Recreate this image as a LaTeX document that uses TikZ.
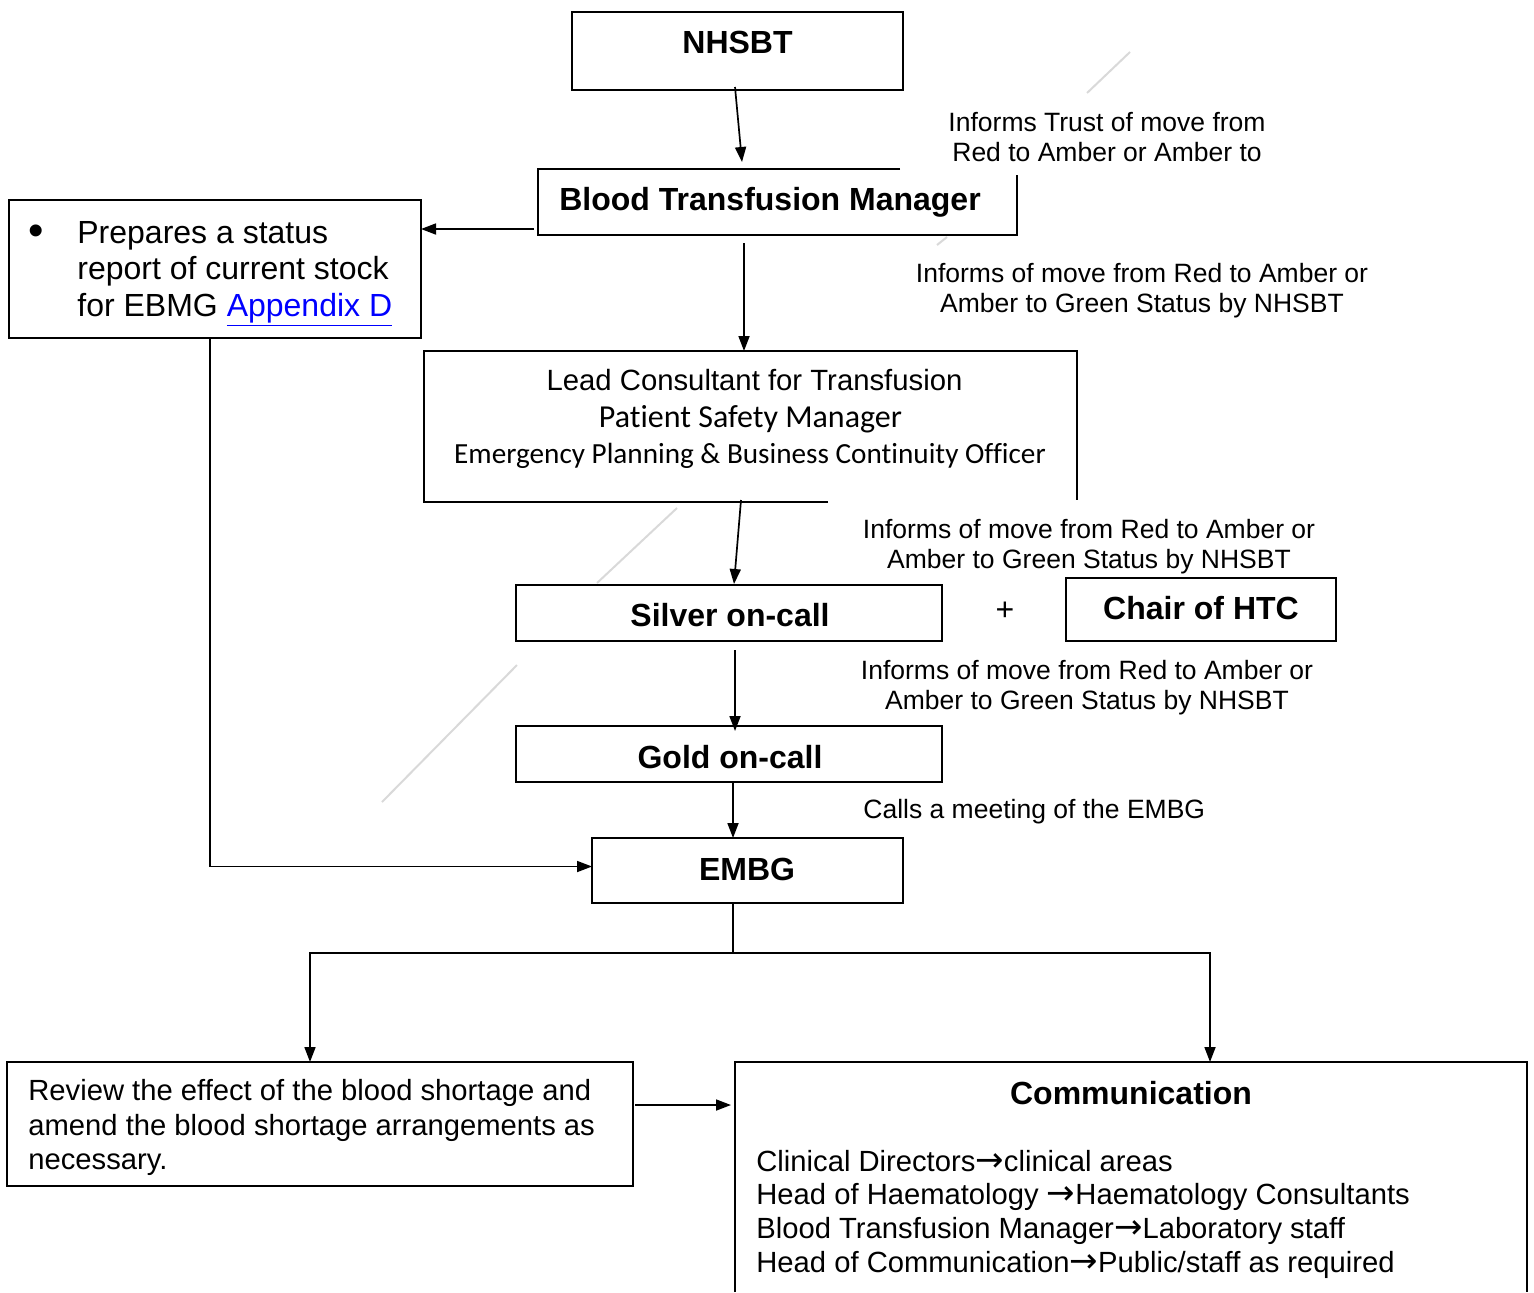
\documentclass[tikz,border=0pt]{standalone}
\usepackage{fontspec}
\setmainfont{Liberation Sans}
\newfontfamily\calib[RawFeature=-liga]{Carlito}
\newfontfamily\djv{DejaVu Sans}
\newcommand\rarr{{\djv\fontsize{17}{16.85}\selectfont →}}
\usetikzlibrary{arrows.meta,calc}
\definecolor{linkblue}{RGB}{0,0,255}
\begin{document}
\begin{tikzpicture}[x=0.5pt,y=-0.5pt,
  box/.style={draw=none, inner sep=0, outer sep=0, rectangle},
  frame/.style={line width=1pt, draw=black, inner sep=0, outer sep=0},
  arr/.style={line width=0.85pt, -{Triangle[length=7.5pt,width=5.5pt]}},
  conn/.style={line width=0.85pt},
  title/.style={font=\fontsize{16}{19}\selectfont\bfseries, inner sep=0},
  lab/.style={font=\fontsize{13.25}{15}\selectfont, align=center, inner sep=0},
  faint/.style={draw=black!15, line width=1pt}]
\useasboundingbox (0,0) rectangle (1534,1292);

% faint stray strokes
\draw[faint] (1087,93) -- (1130,52);
\draw[faint] (937,245) -- (947,237);
\draw[faint] (597,583) -- (677,508);
\draw[faint] (517,665) -- (382,802);

% NHSBT
\node[frame, minimum width=165.5pt, minimum height=39pt] (nhsbt) at (737.5,51) {};
\node[title] (nhsbt-t) at (737.5,42) {NHSBT};

% Blood Transfusion Manager (open corner)
\node[box, minimum width=239.5pt, minimum height=33pt] (btm) at (777.5,202) {};
\draw[line width=1pt] ($(btm.north west)+(362,0)$) -- (btm.north west) -- (btm.south west) -- (btm.south east) -- ($(btm.north east)+(0,6)$);
\node[title] (btm-t) at (770,202) {Blood Transfusion Manager};

% status report box
\node[frame, minimum width=206pt, minimum height=69pt] (stock) at (215,269) {};
\node[inner sep=0, font=\fontsize{22}{22}\selectfont] (bullet) at (36,235) {•};
\node[inner sep=0, anchor=west, align=left, font=\fontsize{16}{18.25}\selectfont] (stock-t) at (77,274) {Prepares a status\\report of current stock\\for EBMG \textcolor{linkblue}{\underline{Appendix D}}};

% Lead consultant box (open corner)
\node[box, minimum width=326.5pt, minimum height=75.5pt] (lead) at (750.5,426.5) {};
\draw[line width=1pt] ($(lead.south west)+(404,0)$) -- (lead.south west) -- (lead.north west) -- (lead.north east) -- ($(lead.south east)+(0,-2)$);
\node[inner sep=0, font=\fontsize{14.65}{17}\selectfont] (lead-1) at (754.5,380) {Lead Consultant for Transfusion};
\node[inner sep=0, font=\calib\fontsize{16}{19}\selectfont] (lead-2) at (750.5,419) {Patient Safety Manager};
\node[inner sep=0, font=\calib\fontsize{14.6}{17}\selectfont] (lead-3) at (750,455.5) {Emergency Planning \& Business Continuity Officer};

% labels
\node[lab] (lab1) at (1107,137) {Informs Trust of move from\\Red to Amber or Amber to};
\node[lab] (lab2) at (1142,291) {Informs of move from Red to Amber or\\Amber to Green Status by NHSBT};
\node[lab] (lab3) at (1089,547) {Informs of move from Red to Amber or\\Amber to Green Status by NHSBT};
\node[lab] (lab4) at (1087,688) {Informs of move from Red to Amber or\\Amber to Green Status by NHSBT};
\node[lab, anchor=west] (lab5) at (863,812) {Calls a meeting of the EMBG};

% Silver, Chair, Gold, EMBG
\node[frame, minimum width=213pt, minimum height=28pt] (silver) at (729,613) {};
\node[title] (silver-t) at (730,615) {Silver on-call};
\node[inner sep=0, font=\fontsize{16}{19}\selectfont] (plus) at (1005,611) {+};
\node[frame, minimum width=135pt, minimum height=31.5pt] (chair) at (1201,609.5) {};
\node[title] (chair-t) at (1201,608) {Chair of HTC};
\node[frame, minimum width=213pt, minimum height=28pt] (gold) at (729,754) {};
\node[title] (gold-t) at (730,757) {Gold on-call};
\node[frame, minimum width=155.5pt, minimum height=32.5pt] (embg) at (747.5,870.5) {};
\node[title] (embg-t) at (747,869) {EMBG};

% Review box
\node[frame, minimum width=313pt, minimum height=62pt] (review) at (320,1124) {};
\node[inner sep=0, anchor=west, align=left, font=\fontsize{14.6}{17.25}\selectfont] (review-t) at (28,1127.5) {Review the effect of the blood shortage and\\amend the blood shortage arrangements as\\necessary.};

% Communication box (open at the bottom)
\node[box, minimum width=396pt, minimum height=115pt] (comm) at (1131,1177) {};
\draw[line width=1pt] (comm.south west) -- (comm.north west) -- (comm.north east) -- (comm.south east);
\node[title] (comm-t) at (1131,1093) {Communication};
\node[inner sep=0, anchor=west, align=left, font=\fontsize{14.6}{16.85}\selectfont] (comm-l) at (756,1214) {Clinical Directors\rarr clinical areas\\Head of Haematology \rarr Haematology Consultants\\Blood Transfusion Manager\rarr Laboratory staff\\Head of Communication\rarr Public/staff as required};

% connectors
\draw[arr] ($(nhsbt.south)+(-2.5,-3)$) -- ($(btm.north)+(-35.5,-7)$);
\draw[arr] ($(btm.south west)+(-4,-6)$) coordinate (p1) -- (p1 -| stock.east);
\draw[arr] ($(btm.south)+(-33.5,8)$) coordinate (p2) -- (p2 |- lead.north);
\draw[arr] ($(lead.south)+(-9.5,-2)$) -- ($(silver.north)+(5,-1)$);
\draw[arr] ($(silver.south)+(6,9)$) coordinate (p3) -- ($(p3 |- gold.north)+(0,5)$);
\draw[arr] ($(gold.south)+(4,0)$) coordinate (p4) -- (p4 |- embg.north);
\draw[arr] ($(stock.south)+(-5,0)$) |- ($(embg.west)+(0,-4)$);
\coordinate (split) at ($(embg.south)+(-14.5,50)$);
\draw[conn] (embg.south -| split) -- (split);
\draw[arr] (split) -| ($(review.north)+(-10,0)$);
\draw[arr] (split) -| ($(comm.north)+(79,0)$);
\draw[arr, shorten >=2pt] ($(review.north east)+(2,43)$) coordinate (p5) -- (p5 -| comm.west);
\end{tikzpicture}
\end{document}
